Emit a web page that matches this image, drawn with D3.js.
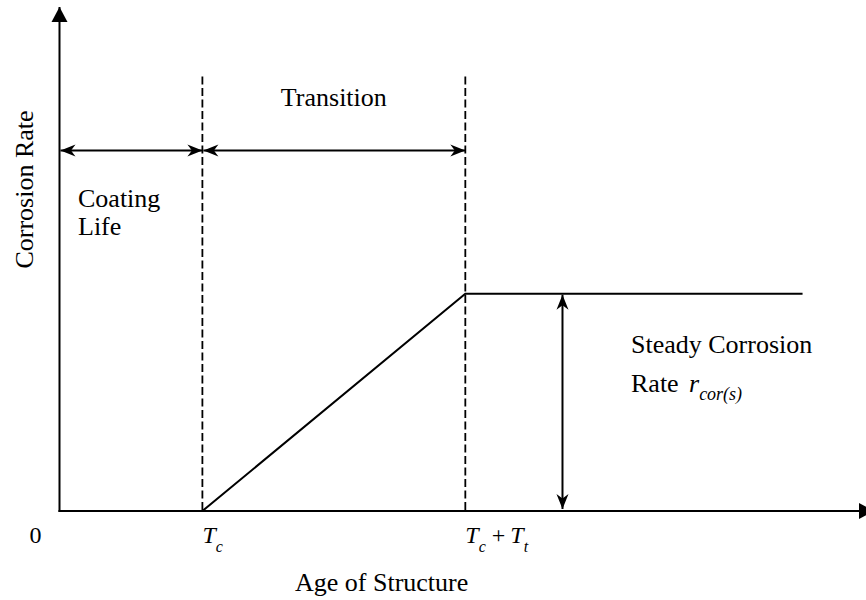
<!DOCTYPE html>
<html>
<head>
<meta charset="utf-8">
<script src="https://cdn.jsdelivr.net/npm/d3@7"></script>
<style>
  html, body { margin: 0; padding: 0; background: #fff; }
  svg { display: block; }
  text { font-family: "Liberation Serif", "Times New Roman", serif; fill: #000; }
</style>
</head>
<body>
<svg id="chart" width="866" height="600"></svg>
<script>
// Corrosion-rate model: age in units of coating life (Tc = 1)
const coatingLife = 1.0;          // Tc
const transitionTime = 1.84;      // Tt
const steadyRate = 1.0;           // r_cor(s)
const rateAges = [coatingLife, coatingLife + transitionTime, 5.2];
const rateValues = [0, steadyRate, steadyRate];
const tickAges = [0, coatingLife, coatingLife + transitionTime];
const tickLabels = ["0", "Tc", "Tc + Tt"];
const spanArrowRate = 1.66;       // height of the phase arrows
const dividerTop = 2.0;           // top of the dashed phase dividers
const steadyArrowAge = 3.52;      // where the steady-rate arrow sits
const ageMax = 5.7, rateMax = 2.32;

const svg = d3.select("#chart");
const x = d3.scaleLinear().domain([0, ageMax]).range([59.5, 874]);
const y = d3.scaleLinear().domain([0, rateMax]).range([511, 7]);

const defs = svg.append("defs");
// solid triangle for the axis ends
defs.append("marker").attr("id", "axisHead")
  .attr("viewBox", "-16 -9 17 18").attr("refX", 0).attr("refY", 0)
  .attr("markerUnits", "userSpaceOnUse")
  .attr("markerWidth", 17).attr("markerHeight", 18).attr("orient", "auto")
  .append("path").attr("d", "M0,0 L-15,-8 L-15,8 Z").attr("fill", "#000");
// swept head for the dimension arrows
defs.append("marker").attr("id", "spanHead")
  .attr("viewBox", "-16 -8 17 16").attr("refX", 0).attr("refY", 0)
  .attr("markerUnits", "userSpaceOnUse")
  .attr("markerWidth", 17).attr("markerHeight", 16).attr("orient", "auto-start-reverse")
  .append("path").attr("d", "M0,0 L-15,-6 L-10.5,0 L-15,6 Z").attr("fill", "#000");

// axes
svg.append("line")
  .attr("x1", x(0)).attr("y1", y(0) + 1).attr("x2", x(0)).attr("y2", y(rateMax))
  .attr("stroke", "#000").attr("stroke-width", 2).attr("marker-end", "url(#axisHead)");
svg.append("line")
  .attr("x1", x(0) - 1).attr("y1", y(0)).attr("x2", x(ageMax)).attr("y2", y(0))
  .attr("stroke", "#000").attr("stroke-width", 2).attr("marker-end", "url(#axisHead)");

// dashed phase dividers at Tc and Tc+Tt
svg.selectAll("line.divider").data(tickAges.slice(1)).join("line")
  .attr("class", "divider")
  .attr("x1", d => x(d)).attr("x2", d => x(d))
  .attr("y1", y(dividerTop)).attr("y2", y(0))
  .attr("stroke", "#000").attr("stroke-width", 1.8)
  .attr("stroke-dasharray", "8,3.5");

// phase span arrows
const spans = [[0, coatingLife], [coatingLife, coatingLife + transitionTime]];
svg.selectAll("line.span").data(spans).join("line")
  .attr("class", "span")
  .attr("x1", d => x(d[0]) + 1).attr("x2", d => x(d[1]))
  .attr("y1", y(spanArrowRate)).attr("y2", y(spanArrowRate))
  .attr("stroke", "#000").attr("stroke-width", 2)
  .attr("marker-start", "url(#spanHead)").attr("marker-end", "url(#spanHead)");

// corrosion rate curve
const line = d3.line().x((d, i) => x(rateAges[i])).y(d => y(d));
svg.append("path").datum(rateValues)
  .attr("d", line).attr("fill", "none")
  .attr("stroke", "#000").attr("stroke-width", 2);

// steady-rate dimension arrow
svg.append("line")
  .attr("x1", x(steadyArrowAge)).attr("x2", x(steadyArrowAge))
  .attr("y1", y(steadyRate) + 1).attr("y2", y(0) - 2)
  .attr("stroke", "#000").attr("stroke-width", 2)
  .attr("marker-start", "url(#spanHead)").attr("marker-end", "url(#spanHead)");

const fs = 26;
const tfs = 24, sfs = 16;
// axis titles
svg.append("text")
  .attr("transform", `translate(33, ${y(1.48)}) rotate(-90)`)
  .attr("text-anchor", "middle").attr("font-size", fs)
  .text("Corrosion Rate");
svg.append("text")
  .attr("x", 295).attr("y", 591)
  .attr("font-size", fs)
  .text("Age of Structure");

// tick labels on the age axis
const tickG = svg.append("g");
tickG.append("text").attr("x", x(tickAges[0]) - 24).attr("y", 543)
  .attr("text-anchor", "middle").attr("font-size", tfs).text(tickLabels[0]);

const t1 = tickG.append("text").attr("x", x(tickAges[1])).attr("y", 543)
  .attr("font-size", tfs).attr("font-style", "italic");
t1.append("tspan").text("T");
t1.append("tspan").attr("font-size", sfs).attr("dy", 9).text("c");

const t2 = tickG.append("text").attr("x", x(tickAges[2])).attr("y", 543)
  .attr("font-size", tfs);
t2.append("tspan").attr("font-style", "italic").text("T");
t2.append("tspan").attr("font-style", "italic").attr("font-size", sfs).attr("dy", 9).text("c");
t2.append("tspan").attr("dy", -9).attr("dx", 6).text("+");
t2.append("tspan").attr("font-style", "italic").attr("dx", 5).text("T");
t2.append("tspan").attr("font-style", "italic").attr("font-size", sfs).attr("dy", 9).text("t");

// phase annotations
svg.append("text").attr("x", x(1.92)).attr("y", 106)
  .attr("text-anchor", "middle").attr("font-size", fs).text("Transition");
svg.append("text").attr("x", 78).attr("y", 207).attr("font-size", fs).text("Coating");
svg.append("text").attr("x", 78).attr("y", 235).attr("font-size", fs).text("Life");

svg.append("text").attr("x", 631).attr("y", 353).attr("font-size", fs).text("Steady Corrosion");
const rt = svg.append("text").attr("x", 631).attr("y", 392).attr("font-size", fs);
rt.append("tspan").text("Rate");
rt.append("tspan").attr("x", 689).attr("font-style", "italic").text("r");
rt.append("tspan").attr("font-style", "italic").attr("font-size", 18).attr("dy", 8).text("cor(s)");
</script>
</body>
</html>
